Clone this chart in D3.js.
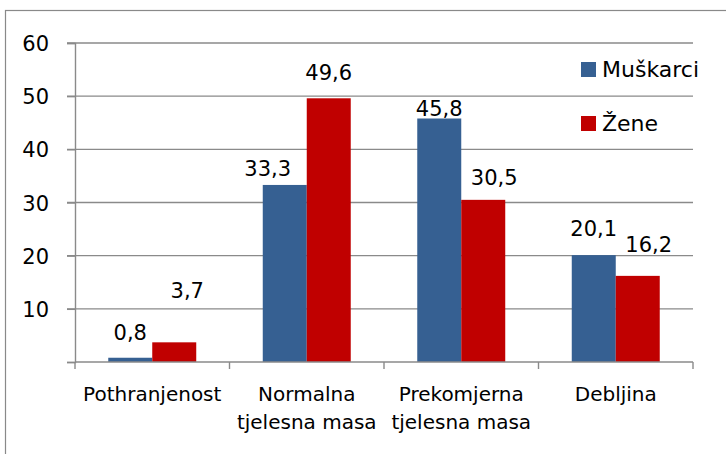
<!DOCTYPE html>
<html>
<head>
<meta charset="utf-8">
<script src="https://cdn.jsdelivr.net/npm/d3@7"></script>
<style>
  body { margin: 0; background: #fff; }
  svg text { font-family: "DejaVu Sans", sans-serif; fill: #000; }
</style>
</head>
<body>
<svg id="chart" width="726" height="454"></svg>
<script>
// Data
var categories = ["Pothranjenost", "Normalna tjelesna masa", "Prekomjerna tjelesna masa", "Debljina"];
var categoryLines = [["Pothranjenost"], ["Normalna", "tjelesna masa"], ["Prekomjerna", "tjelesna masa"], ["Debljina"]];
var series = ["Muškarci", "Žene"];
var muskarci = [0.8, 33.3, 45.8, 20.1];
var zene = [3.7, 49.6, 30.5, 16.2];
var yTicks = [10, 20, 30, 40, 50, 60];

var colors = {"Muškarci": "#366092", "Žene": "#c00000"};

var svg = d3.select("#chart");

// chart frame
svg.append("rect")
    .attr("x", 5.5).attr("y", 10.5)
    .attr("width", 740).attr("height", 460)
    .attr("fill", "#fff")
    .attr("stroke", "#898989")
    .attr("stroke-width", 1.2);

// scales
var x = d3.scaleBand().domain(categories).range([75, 693]);
var x1 = d3.scaleBand().domain(series).range([0, x.bandwidth()]).paddingOuter(0.756);
var y = d3.scaleLinear().domain([0, 60]).range([362, 43]);

// gridlines
svg.append("g")
    .selectAll("line")
    .data(yTicks)
    .enter().append("line")
    .attr("x1", 67).attr("x2", 693)
    .attr("y1", d => y(d)).attr("y2", d => y(d))
    .attr("stroke", "#8a8a8a")
    .attr("stroke-width", 1.4);

// y axis
var yAxis = svg.append("g")
    .attr("transform", "translate(75,0)")
    .call(d3.axisLeft(y).tickValues([0].concat(yTicks)).tickSize(8).tickPadding(18)
        .tickFormat(d => d === 0 ? "" : d));
yAxis.select(".domain").attr("stroke", "#8a8a8a").attr("stroke-width", 1.4);
yAxis.selectAll(".tick line").attr("stroke", "#8a8a8a").attr("stroke-width", 1.4);
yAxis.selectAll(".tick text")
    .style("font-size", "21px")
    .style("font-family", "DejaVu Sans")
    .attr("dy", "0.36em");

// bars
var rows = categories.map((c, i) => ({cat: c, values: [
    {s: "Muškarci", v: muskarci[i]},
    {s: "Žene", v: zene[i]}
]}));

// hand placed data labels, as in the original (dx, lift above bar top)
var labelNudge = {
    "Muškarci": [[0, 18], [-17, 9], [0, 2.5], [0, 19]],
    "Žene": [[13, 44], [0, 18], [11, 15], [11, 24]]
};

var groups = svg.append("g")
    .selectAll("g")
    .data(rows)
    .enter().append("g")
    .attr("transform", d => "translate(" + x(d.cat) + ",0)");

groups.selectAll("rect")
    .data(d => d.values)
    .enter().append("rect")
    .attr("x", d => x1(d.s))
    .attr("y", d => y(d.v))
    .attr("width", x1.bandwidth())
    .attr("height", d => y(0) - y(d.v))
    .attr("fill", d => colors[d.s]);

groups.each(function(row, i) {
    d3.select(this).selectAll("text.val")
        .data(row.values)
        .enter().append("text")
        .attr("class", "val")
        .attr("x", d => x1(d.s) + x1.bandwidth() / 2 + labelNudge[d.s][i][0])
        .attr("y", d => y(d.v) - labelNudge[d.s][i][1])
        .attr("text-anchor", "middle")
        .style("font-size", "21px")
        .text(d => String(d.v).replace(".", ","));
});

// x axis
var xAxis = svg.append("g")
    .attr("transform", "translate(0,362)");
xAxis.append("line")
    .attr("x1", 75).attr("x2", 693)
    .attr("stroke", "#8a8a8a").attr("stroke-width", 1.4);
xAxis.selectAll("line.tick")
    .data(categories.concat(["end"]))
    .enter().append("line")
    .attr("class", "tick")
    .attr("x1", (d, i) => i < categories.length ? x(d) : x.range()[1])
    .attr("x2", (d, i) => i < categories.length ? x(d) : x.range()[1])
    .attr("y1", 0).attr("y2", 7)
    .attr("stroke", "#8a8a8a").attr("stroke-width", 1.4);

categories.forEach(function(c, i) {
    var t = svg.append("text")
        .attr("x", x(c) + x.bandwidth() / 2)
        .attr("y", 401)
        .attr("text-anchor", "middle")
        .style("font-size", "20px");
    categoryLines[i].forEach(function(line, j) {
        t.append("tspan")
            .attr("x", x(c) + x.bandwidth() / 2)
            .attr("dy", j === 0 ? 0 : 28)
            .text(line);
    });
});

// legend
var legend = svg.append("g")
    .selectAll("g")
    .data(series)
    .enter().append("g")
    .attr("transform", (d, i) => "translate(581," + (62 + i * 54) + ")");

legend.append("rect")
    .attr("width", 15)
    .attr("height", 15)
    .attr("fill", d => colors[d]);

legend.append("text")
    .attr("x", 21)
    .attr("y", 15)
    .style("font-size", "22px")
    .text(d => d);
</script>
</body>
</html>
